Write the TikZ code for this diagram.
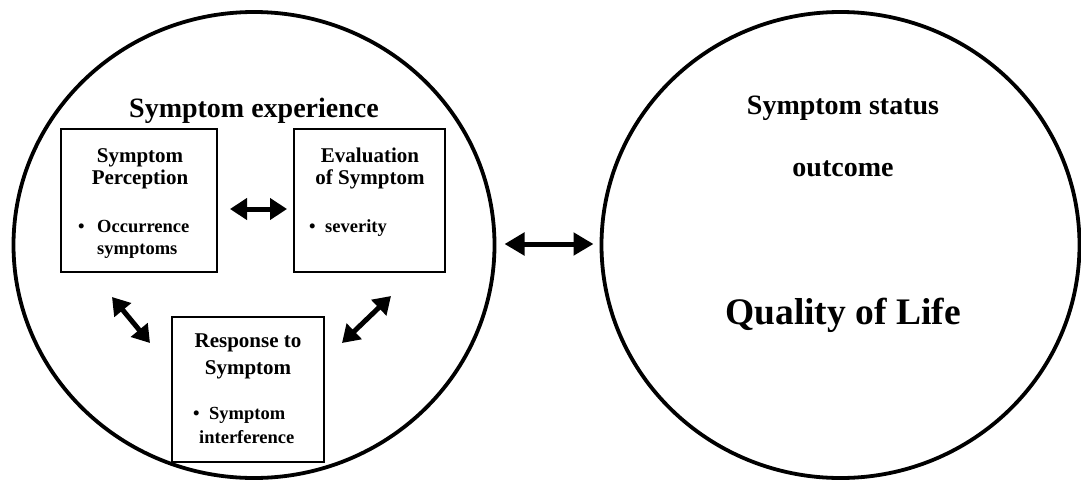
\documentclass[tikz,border=0pt]{standalone}
\usepackage{fontspec}
\setmainfont{Liberation Serif}
\usetikzlibrary{arrows.meta,shapes.geometric}
\begin{document}
\begin{tikzpicture}[x=1pt,y=-1pt,
  bigcirc/.style={draw, ellipse, line width=3.8pt, inner sep=0pt, outer sep=0pt},
  stepbox/.style={draw, rectangle, line width=1.8pt, inner sep=0pt, outer sep=0pt},
  dblarrow/.style={line width=5pt, {Triangle[length=17pt,width=21pt]}-{Triangle[length=17pt,width=21pt]}},
  bigarrow/.style={line width=5pt, {Triangle[length=20pt,width=22pt]}-{Triangle[length=20pt,width=22pt]}},
  ttl/.style={inner sep=0pt, anchor=base, font=\bfseries\fontsize{28}{32}\selectfont},
  hd/.style={inner sep=0pt, anchor=base, font=\bfseries\fontsize{21}{24}\selectfont},
  bl/.style={inner sep=0pt, anchor=base west, font=\bfseries\fontsize{18.5}{22}\selectfont},
  qol/.style={inner sep=0pt, anchor=base, font=\bfseries\fontsize{37.5}{42}\selectfont}]
\useasboundingbox (0,0) rectangle (1081,485);
\fill[white] (0,0) rectangle (1081,485);

% circles
\node[bigcirc, minimum width=481pt, minimum height=466pt] (exp) at (254,245) {};
\node[bigcirc, minimum width=478pt, minimum height=466pt] (out) at (840.5,245) {};

% left circle content
\node[ttl] (texp) at (254,117) {Symptom experience};

\node[stepbox, minimum width=156pt, minimum height=143pt] (perc) at (139,200.5) {};
\node[stepbox, minimum width=151pt, minimum height=143pt] (eval) at (369.5,200.5) {};
\node[stepbox, minimum width=152pt, minimum height=145pt] (resp) at (248,389.5) {};

\node[hd] (p1) at (140,162) {Symptom};
\node[hd] (p2) at (140,184) {Perception};
\node[bl] (p3) at (78,232) {\makebox[19pt][l]{•}Occurrence};
\node[bl] (p4) at (97,254) {symptoms};

\node[hd] (e1) at (370,162) {Evaluation};
\node[hd] (e2) at (370,184) {of Symptom};
\node[bl] (e3) at (309,232) {\makebox[16pt][l]{•}severity};

\node[hd] (r1) at (248,347) {Response to};
\node[hd] (r2) at (248,374) {Symptom};
\node[bl] (r3) at (193,419) {\makebox[16pt][l]{•}Symptom};
\node[bl] (r4) at (199,443) {interference};

% right circle content
\node[ttl] (tss) at (843,114) {Symptom status};
\node[ttl] (tout) at (843,176) {outcome};
\node[qol] (tqol) at (843,324) {Quality of Life};

% connectors
\draw[dblarrow] ([shift={(13,8.5)}]perc.east) -- ([shift={(-7,8.5)}]eval.west);
\draw[dblarrow] ([shift={(-27,25)}]perc.south) -- ([shift={(-22,-46.5)}]resp.west);
\draw[dblarrow] ([shift={(21.5,24)}]eval.south) -- ([shift={(18,-46.5)}]resp.east);
\draw[bigarrow] ([shift={(10,-1)}]exp.east) -- ([shift={(-8,-1)}]out.west);
\end{tikzpicture}
\end{document}
